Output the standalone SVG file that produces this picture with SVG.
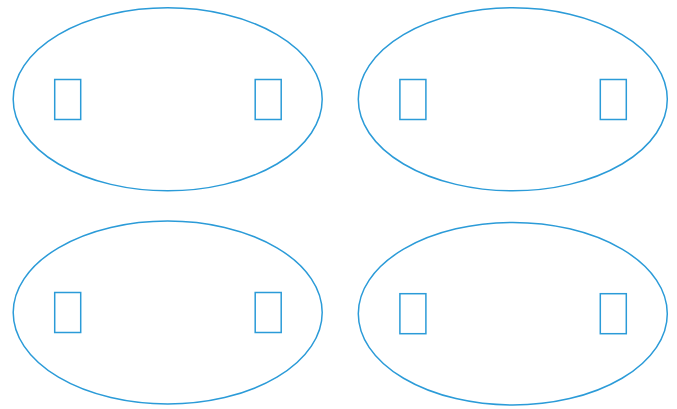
<svg xmlns="http://www.w3.org/2000/svg" width="677" height="409" viewBox="0 0 677 409">
<style>
.n{fill:#fff;stroke:#2b9bd8;stroke-width:1.5}
.g{fill:none;stroke:#2b9bd8;stroke-width:1.5}
</style>
<rect width="677" height="409" fill="#fff"/>
<g id="node1">
<ellipse class="n" cx="167.7" cy="99.3" rx="154.5" ry="91.5"/>
<rect class="g" x="54.7" y="79.5" width="26" height="40"/>
<rect class="g" x="255.2" y="79.5" width="26" height="40"/>
</g>
<g id="node2">
<ellipse class="n" cx="512.8" cy="99.3" rx="154.5" ry="91.5"/>
<rect class="g" x="399.9" y="79.5" width="26" height="40"/>
<rect class="g" x="600.3" y="79.5" width="26" height="40"/>
</g>
<g id="node3">
<ellipse class="n" cx="167.7" cy="312.5" rx="154.5" ry="91.5"/>
<rect class="g" x="54.7" y="292.5" width="26" height="40"/>
<rect class="g" x="255.2" y="292.5" width="26" height="40"/>
</g>
<g id="node4">
<ellipse class="n" cx="512.8" cy="313.7" rx="154.5" ry="91.3"/>
<rect class="g" x="399.9" y="293.7" width="26" height="40"/>
<rect class="g" x="600.3" y="293.7" width="26" height="40"/>
</g>
<g id="connectors"></g>
</svg>
